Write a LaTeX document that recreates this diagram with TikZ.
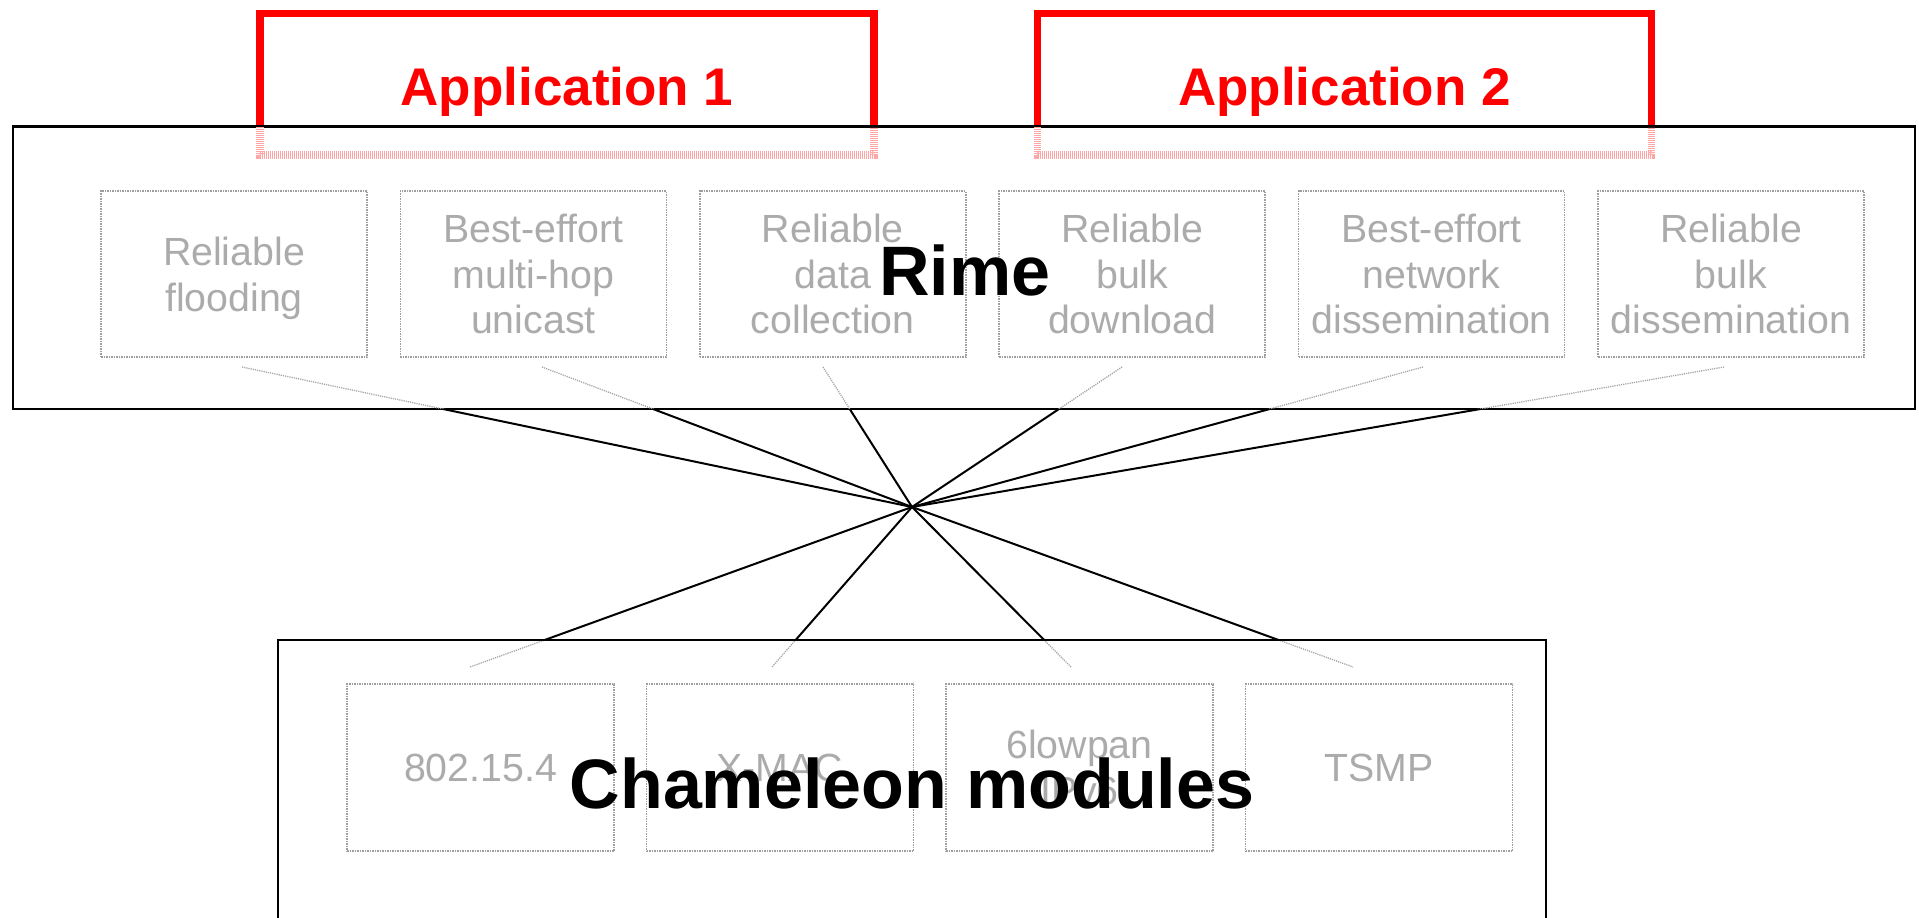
\documentclass[tikz,border=0pt]{standalone}
\usepackage{fontspec}
\setmainfont{Liberation Sans}
\begin{document}
\begin{tikzpicture}[x=1pt, y=-1pt,
  appframe/.style={draw=red, line width=7.5pt, line join=miter},
  appghost/.style={draw=red!35, line width=7.5pt, dash pattern=on 1.2pt off 0.8pt},
  apptext/.style={text=red, font=\fontsize{53}{64}\selectfont\bfseries, inner sep=0pt, anchor=base},
  layerbox/.style={draw=black, line width=2.5pt, inner sep=0pt},
  layertext/.style={text=black, font=\fontsize{70}{84}\selectfont\bfseries, inner sep=0pt, anchor=base},
  modbox/.style={draw=black!38, line width=1.5pt, dash pattern=on 1.5pt off 1pt,
    minimum width=266pt, minimum height=166pt, inner sep=0pt, align=center,
    text=black!33, font=\fontsize{39.3}{45.7}\selectfont, text depth=0pt},
  link/.style={draw=black, line width=2pt},
  linkin/.style={draw=black!35, line width=1.3pt, dash pattern=on 1.2pt off 1pt}]

\useasboundingbox (0,0) rectangle (1919,918);
\clip (0,0) rectangle (1919,918);

% the two layers
\node[layerbox, minimum width=1902pt, minimum height=282pt] (rime) at (964,268) {};
\node[layerbox, minimum width=1268pt, minimum height=300pt] (cham) at (912,790) {};

% fan-out point and connector ends
\coordinate (hub) at (912,507);
\coordinate (t1) at (242,367);
\coordinate (t2) at (542,367);
\coordinate (t3) at (823,367);
\coordinate (t4) at (1122,367);
\coordinate (t5) at (1423,367);
\coordinate (t6) at (1724,367);
\coordinate (b1) at (470,667);
\coordinate (b2) at (772,667);
\coordinate (b3) at (1071,667);
\coordinate (b4) at (1353,667);

% connector parts inside the layer boxes
\begin{scope}
  \clip (0,0) rectangle (1919,409);
  \foreach \i in {1,...,6} \draw[linkin] (t\i) -- (hub);
\end{scope}
\begin{scope}
  \clip (0,640) rectangle (1919,918);
  \foreach \i in {1,...,4} \draw[linkin] (hub) -- (b\i);
\end{scope}
% connector parts between the layers
\begin{scope}
  \clip (0,409) rectangle (1919,640);
  \foreach \i in {1,...,6} \draw[link] (t\i) -- (hub);
  \foreach \i in {1,...,4} \draw[link] (hub) -- (b\i);
\end{scope}

% Rime modules
\node[modbox] (m1) at (234,274)    {Reliable\\flooding};
\node[modbox] (m2) at (533.4,274)  {Best-effort\\multi-hop\\unicast};
\node[modbox] (m3) at (832.8,274)  {Reliable\\data\\collection};
\node[modbox] (m4) at (1132.2,274) {Reliable\\bulk\\download};
\node[modbox] (m5) at (1431.6,274) {Best-effort\\network\\dissemination};
\node[modbox] (m6) at (1731,274)   {Reliable\\bulk\\dissemination};

% Chameleon modules
\node[modbox, minimum width=267pt, minimum height=167pt] (c1) at (480.5,767.5)  {802.15.4};
\node[modbox, minimum width=267pt, minimum height=167pt] (c2) at (780,767.5)    {X-MAC};
\node[modbox, minimum width=267pt, minimum height=167pt] (c3) at (1079.5,767.5) {6lowpan\\IPv6};
\node[modbox, minimum width=267pt, minimum height=167pt] (c4) at (1379,767.5)   {TSMP};

% applications on top of Rime
\draw[appghost] (260,127) -- (260,155) -- (874,155) -- (874,127);
\draw[appghost] (1037.5,127) -- (1037.5,155) -- (1651.5,155) -- (1651.5,127);
\draw[appframe] (260,127) -- (260,13.7) -- (874,13.7) -- (874,127);
\draw[appframe] (1037.5,127) -- (1037.5,13.7) -- (1651.5,13.7) -- (1651.5,127);
\draw[line width=2.5pt] (rime.north west) -- (rime.north east);

% labels
\node[apptext] (app1) at (567,105) {Application 1};
\node[apptext] (app2) at (1344.5,105) {Application 2};
\node[layertext] (rimelabel) at (965,295) {Rime};
\node[layertext] (chamlabel) at (912,808) {Chameleon modules};
\end{tikzpicture}
\end{document}
